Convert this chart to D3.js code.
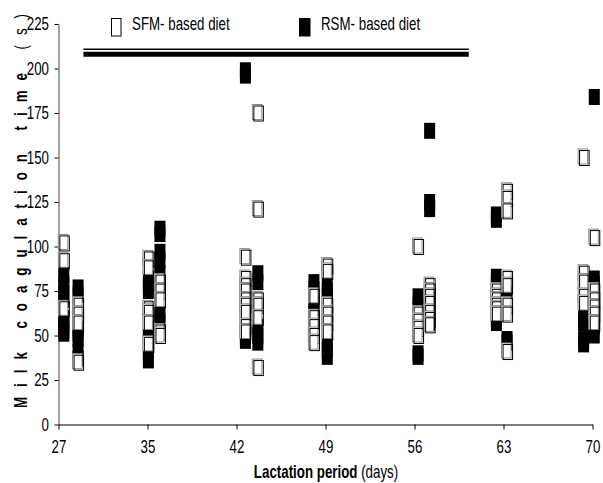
<!DOCTYPE html>
<html>
<head>
<meta charset="utf-8">
<script src="https://cdn.jsdelivr.net/npm/d3@7"></script>
<style>
  body { margin: 0; background: #fff; }
  svg text { font-family: "Liberation Sans", Arial, sans-serif; }
</style>
</head>
<body>
<div id="chart"></div>
<script>
// sampling days (evenly spaced on the axis)
var days = [27, 35, 42, 49, 56, 63, 70];
var yTicks = [0, 25, 50, 75, 100, 125, 150, 175, 200, 225];

// x position of the two sample columns for each day (in day-index units)
var colA = [0.06, 0.01, 0.10, -0.13, 0.04, -0.08, -0.10];
var colB = [0.22, 0.14, 0.24, 0.02, 0.17, 0.04, 0.02];

// milk coagulation time (s), SFM-based diet
var sfmA = [[102, 92, 65], [93, 88, 65, 63, 57, 45], [94, 82, 78, 75, 70, 67, 63, 55, 52],
            [72, 60, 55, 50, 46], [100, 62, 58, 54, 50], [75, 72, 70, 67, 65, 62], [150, 85, 80, 72, 68]];
var sfmB = [[67, 62, 57, 35], [80, 75, 70, 52, 50], [175, 121, 70, 67, 60, 32],
            [89, 86, 67, 62, 57, 52], [78, 75, 72, 68, 63, 59, 56], [131, 127, 120, 82, 78, 67, 62, 41],
            [105, 75, 70, 66, 62, 57]];
// milk coagulation time (s), RSM-based diet
var rsmA = [[84, 79, 74, 70, 60, 56, 53, 51], [82, 78, 75, 54, 50, 46, 39, 36], [199, 196, 63, 60, 50, 47],
            [80, 76, 70, 66, 62, 58], [72, 67, 40, 38], [118, 115, 83, 80, 75, 60, 57], [60, 57, 48, 45]];
var rsmB = [[77, 73, 54, 51, 48, 41, 37], [110, 107, 97, 92, 85, 78, 62, 58], [85, 80, 55, 50, 46],
            [78, 75, 72, 47, 42, 38], [165, 125, 121, 70, 62, 57], [77, 75, 48, 46], [184, 82, 79, 55, 50]];

// period marked by the double bar (day-index units)
var barSpan = [0.28, 4.61];

var width = 603,
    height = 483,
    squeeze = 0.74; // narrow-font look

var x = d3.scaleLinear().domain([0, days.length - 1]).range([58.5, 592.5]);
var y = d3.scaleLinear().domain([0, 225]).range([424.5, 24]);

var svg = d3.select("#chart").append("svg")
    .attr("width", width)
    .attr("height", height);

function flatten(colsA, colsB) {
    var pts = [];
    colsA.forEach(function (vals, i) {
        vals.forEach(function (v) { pts.push({ x: i + colA[i], v: v }); });
    });
    colsB.forEach(function (vals, i) {
        vals.forEach(function (v) { pts.push({ x: i + colB[i], v: v }); });
    });
    return pts;
}
var sfm = flatten(sfmA, sfmB),
    rsm = flatten(rsmA, rsmB);

// axes
var yAxis = svg.append("g")
    .attr("transform", "translate(" + x(0) + ",0)")
    .call(d3.axisLeft(y).tickValues(yTicks).tickSize(4).tickSizeOuter(0));
yAxis.select(".domain").attr("stroke", "#444");
yAxis.selectAll("text")
    .attr("x", -9.5 / squeeze)
    .attr("transform", "scale(" + squeeze + ",1)")
    .style("font-size", "18px").attr("fill", "#000");

var xAxis = svg.append("g")
    .attr("transform", "translate(0," + y(0) + ")")
    .call(d3.axisBottom(x).tickValues(d3.range(days.length))
        .tickFormat(function (d) { return days[d]; })
        .tickSize(5).tickSizeOuter(0).tickPadding(11));
xAxis.selectAll("text")
    .attr("transform", "scale(" + squeeze + ",1)")
    .style("font-size", "18px").attr("fill", "#000");

// RSM (filled)
svg.append("g").selectAll("rect")
    .data(rsm)
    .enter().append("rect")
    .attr("x", function (d) { return x(d.x) - 5.5; })
    .attr("y", function (d) { return y(d.v) - 8; })
    .attr("width", 11)
    .attr("height", 16)
    .attr("fill", "#000");

// SFM (open, double outline)
var open = svg.append("g").selectAll("g")
    .data(sfm)
    .enter().append("g")
    .attr("transform", function (d) { return "translate(" + x(d.x) + "," + y(d.v) + ")"; });
open.append("rect")
    .attr("x", -5.5).attr("y", -8.5)
    .attr("width", 9.5).attr("height", 15)
    .attr("fill", "#fff")
    .attr("stroke", "#888");
open.append("rect")
    .attr("x", -4).attr("y", -7)
    .attr("width", 9.5).attr("height", 15)
    .attr("fill", "none")
    .attr("stroke", "#000");

// double bar
svg.append("line")
    .attr("x1", x(barSpan[0])).attr("x2", x(barSpan[1]))
    .attr("y1", 49.2).attr("y2", 49.2)
    .attr("stroke", "#000").attr("stroke-width", 1.6);
svg.append("line")
    .attr("x1", x(barSpan[0])).attr("x2", x(barSpan[1]))
    .attr("y1", 54.2).attr("y2", 54.2)
    .attr("stroke", "#000").attr("stroke-width", 5);

// legend
svg.append("rect")
    .attr("x", 111.5).attr("y", 18.5)
    .attr("width", 9.5).attr("height", 17.5)
    .attr("fill", "#fff").attr("stroke", "#000");
svg.append("text")
    .attr("transform", "translate(132,30) scale(" + squeeze + ",1)")
    .style("font-size", "18px")
    .text("SFM- based diet");
svg.append("rect")
    .attr("x", 299).attr("y", 18)
    .attr("width", 11.5).attr("height", 18.5)
    .attr("fill", "#000");
svg.append("text")
    .attr("transform", "translate(321,30) scale(" + squeeze + ",1)")
    .style("font-size", "18px")
    .text("RSM- based diet");

// axis titles
var xt = svg.append("text")
    .attr("transform", "translate(326,478) scale(" + squeeze + ",1)")
    .attr("text-anchor", "middle")
    .style("font-size", "18px");
xt.append("tspan").style("font-weight", "bold").text("Lactation period");
xt.append("tspan").text(" (days)");

var yt = svg.append("text")
    .attr("transform", "translate(26.5,211) rotate(-90) scale(" + squeeze + ",1)")
    .attr("text-anchor", "middle")
    .attr("textLength", 394 / squeeze)
    .attr("lengthAdjust", "spacing")
    .style("font-size", "18px");
yt.append("tspan").style("font-weight", "bold").text("Milk coagulation time");
yt.append("tspan").text(" (s)");
</script>
</body>
</html>
